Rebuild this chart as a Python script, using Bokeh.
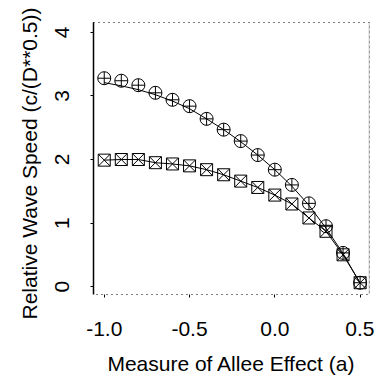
from bokeh.plotting import figure
from bokeh.models import Range1d, FixedTicker, Span, PrintfTickFormatter, Title
from bokeh.embed import file_html
from bokeh.resources import INLINE

# Data
allee = [-1.0, -0.9, -0.8, -0.7, -0.6, -0.5, -0.4, -0.3, -0.2, -0.1, 0.0, 0.1, 0.2, 0.3, 0.4, 0.5]
speed_circle = [3.28, 3.24, 3.17, 3.05, 2.94, 2.84, 2.64, 2.47, 2.29, 2.07, 1.84, 1.60, 1.31, 0.95, 0.53, 0.06]
curve_circle = [3.21, 3.16, 3.10, 3.02, 2.92, 2.80, 2.64, 2.47, 2.28, 2.07, 1.84, 1.58, 1.28, 0.92, 0.52, 0.05]
speed_square = [1.99, 2.00, 2.00, 1.95, 1.93, 1.90, 1.84, 1.76, 1.66, 1.56, 1.44, 1.30, 1.08, 0.87, 0.50, 0.06]
y_ticks = [0, 1, 2, 3, 4]
x_ticks = [-1.0, -0.5, 0.0, 0.5]
x_title = "Measure of Allee Effect (a)"
y_title = "Relative Wave Speed (c/(D**0.5))"

FONT = "Liberation Sans"
X0, X1 = -1.063, 0.555
Y0, Y1 = -0.125, 4.157

p = figure(width=374, height=386, output_backend="svg", toolbar_location=None,
           x_range=Range1d(X0, X1), y_range=Range1d(Y0, Y1),
           min_border_left=93, min_border_top=22, min_border_right=5, min_border_bottom=91)
p.grid.visible = False
p.background_fill_color = "white"
p.border_fill_color = "white"
p.outline_line_color = "black"
p.outline_line_dash = "1 4"
p.outline_line_width = 1

p.add_layout(Span(location=X1, dimension="height", line_color="#aaaaaa", line_width=1.5))

# lines
p.line(allee, curve_circle, line_color="black", line_width=1)
p.line(allee, speed_square, line_color="black", line_width=1)

# markers
p.scatter(allee, speed_circle, marker="circle_cross", size=13, fill_color=None,
          line_color="black", line_width=1)
p.scatter(allee, speed_square, marker="square_x", size=12, fill_color=None,
          line_color="black", line_width=1)

# axes
xa = p.xaxis[0]
xa.ticker = FixedTicker(ticks=x_ticks)
xa.formatter = PrintfTickFormatter(format="%.1f")
xa.axis_line_color = None
xa.major_tick_in = 0
xa.major_tick_out = 3
xa.minor_tick_line_color = None
xa.major_label_standoff = 24
xa.major_label_text_font = FONT
xa.major_label_text_font_size = "21px"
xa.major_label_text_color = "black"

ya = p.yaxis[0]
ya.ticker = FixedTicker(ticks=y_ticks)
ya.axis_line_color = "black"
ya.axis_line_width = 1.5
ya.major_tick_in = 0
ya.major_tick_out = 3
ya.minor_tick_line_color = None
ya.major_label_orientation = "vertical"
ya.major_label_standoff = 21
ya.major_label_text_font = FONT
ya.major_label_text_font_size = "21px"
ya.major_label_text_color = "black"

# axis titles
p.add_layout(Title(text=x_title, align="center", text_font=FONT, text_font_size="21px",
                   text_font_style="normal", text_color="black", standoff=23), "below")
p.add_layout(Title(text=y_title, align="left", text_font=FONT, text_font_size="21px",
                   text_font_style="normal", text_color="black", standoff=24, offset=-25), "left")

open("out.html", "w").write(file_html(p, INLINE))
